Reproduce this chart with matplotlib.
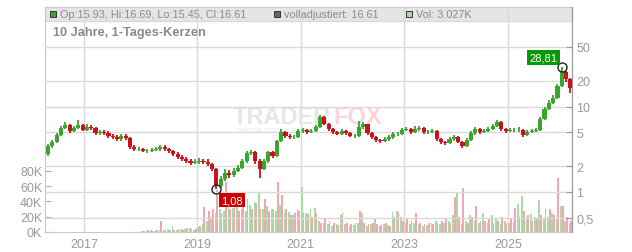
import numpy as np
import pandas as pd
import matplotlib
matplotlib.use("Agg")
import matplotlib.pyplot as plt
from matplotlib.patches import Rectangle

plt.rcParams['font.family'] = ['Liberation Sans', 'DejaVu Sans']

# monthly candles (EUR, log scale), first month Feb 2016
startMonth = '2016-02-01'
firstOpen = 2.78
closes = [3.45, 3.84, 4.65, 5.6, 6.08, 5.17, 5.6, 6.08, 5.31, 5.76,
          5.6, 4.90, 5.03, 4.90, 4.52, 4.40, 4.17, 4.52, 4.28, 3.36,
          3.18, 3.18, 3.02, 3.02, 3.10, 3.18, 3.36, 3.18, 3.02, 2.78,
          2.57, 2.43, 2.30, 2.18, 2.24, 2.30, 2.24, 2.13, 1.86, 1.17,
          1.42, 1.67, 1.58, 1.76, 1.91, 2.30, 2.86, 2.94, 2.30, 1.86,
          2.30, 2.94, 2.64, 3.95, 5.03, 4.52, 4.40, 4.40, 5.17, 5.31,
          5.03, 5.17, 5.76, 7.54, 6.24, 5.46, 5.03, 4.77, 5.17, 4.90,
          4.52, 4.52, 5.76, 6.24, 4.90, 4.40, 4.06, 3.95, 4.17, 4.40,
          4.77, 4.77, 5.31, 5.46, 5.03, 5.46, 5.60, 5.03, 5.03, 5.17,
          4.17, 3.84, 3.74, 4.17, 4.40, 3.84, 3.45, 4.06, 4.90, 5.46,
          5.03, 5.17, 5.46, 5.91, 6.59, 5.46, 5.17, 5.31, 5.31, 5.31,
          4.65, 5.03, 5.17, 5.31, 7.14, 9.35, 11.0, 12.6, 17.4, 25.3,
          21.0, 16.61]
highs = [3.6, 4.1, 4.9, 5.9, 6.6, 6.3, 5.9, 7.0, 6.3, 6.2,
         6.1, 5.8, 5.3, 5.3, 5.1, 4.8, 4.6, 4.8, 4.8, 4.4,
         3.5, 3.4, 3.3, 3.2, 3.3, 3.4, 3.5, 3.5, 3.3, 3.1,
         2.9, 2.7, 2.55, 2.45, 2.4, 2.5, 2.45, 2.4, 2.2, 1.9,
         1.55, 1.85, 1.8, 1.9, 2.05, 2.45, 3.0, 3.1, 3.0, 2.4,
         2.45, 3.05, 3.0, 4.1, 5.4, 5.2, 4.8, 4.7, 5.4, 5.6,
         5.5, 5.5, 6.1, 7.9, 7.7, 6.4, 5.6, 5.2, 5.4, 5.3,
         5.0, 4.8, 6.7, 6.6, 6.3, 5.0, 4.5, 4.2, 4.4, 4.6,
         5.0, 5.0, 5.6, 5.7, 5.6, 5.9, 5.9, 5.7, 5.3, 5.4,
         5.3, 4.3, 4.0, 4.4, 4.7, 4.5, 3.95, 4.3, 5.2, 5.8,
         5.6, 5.5, 5.8, 6.2, 7.0, 6.7, 5.6, 5.6, 5.6, 5.7,
         5.4, 5.3, 5.5, 5.6, 7.5, 9.8, 11.8, 13.5, 18.5, 28.81,
         26.0, 21.8]
lows = [2.65, 3.3, 3.7, 4.5, 5.4, 4.9, 5.0, 5.4, 5.1, 5.1,
        5.3, 4.7, 4.7, 4.7, 4.3, 4.2, 4.0, 4.0, 4.1, 3.2,
        3.0, 3.0, 2.9, 2.85, 2.9, 3.0, 3.05, 3.0, 2.85, 2.65,
        2.45, 2.3, 2.2, 2.05, 2.1, 2.15, 2.1, 2.0, 1.75, 1.08,
        1.12, 1.35, 1.45, 1.5, 1.7, 1.85, 2.2, 2.7, 2.1, 1.45,
        1.8, 2.2, 2.5, 2.55, 3.8, 4.3, 4.2, 4.15, 4.3, 4.9,
        4.8, 4.9, 5.0, 5.6, 6.0, 5.2, 4.8, 4.6, 4.6, 4.7,
        4.35, 4.3, 4.4, 5.5, 4.7, 4.2, 3.85, 3.7, 3.8, 4.0,
        4.2, 4.5, 4.6, 5.1, 4.8, 4.9, 5.2, 4.8, 4.8, 4.85,
        4.0, 3.65, 3.5, 3.6, 4.0, 3.7, 3.3, 3.35, 3.95, 4.7,
        4.8, 4.85, 5.0, 5.3, 5.7, 5.2, 4.9, 5.0, 5.0, 5.0,
        4.4, 4.5, 4.85, 5.0, 5.1, 6.9, 9.0, 10.6, 12.2, 16.8,
        19.5, 14.5]

# peak daily volume per month (thousand shares), up days / down days
volUp = [0, 0, 0, 0, 0, 0, 0, 0, 0, 0, 0, 0, 0, 0, 0, 0, 0, 0, 0, 0, 0, 0,
         1, 1, 2, 1, 3, 2, 4, 8, 3, 4,
         4, 5, 3, 6, 10, 14, 20, 25, 30, 28,
         37, 32, 35, 30, 28, 35, 40, 52, 30, 34,
         30, 28, 35, 25, 26, 22, 30, 59, 25, 30,
         32, 15, 12, 10, 8, 10, 22, 10, 8, 9,
         12, 25, 8, 10, 18, 8, 10, 9, 26, 28,
         20, 12, 10, 12, 10, 8, 9, 12, 14, 10,
         12, 15, 22, 53, 10, 15, 22, 14, 12, 25,
         12, 22, 18, 10, 15, 12, 14, 37, 47, 20,
         24, 20, 42, 18, 20, 25, 18, 34, 15, 12]
volDown = [0, 0, 0, 0, 0, 0, 0, 0, 0, 0, 0, 0, 0, 0, 0, 0, 0, 0, 0, 0, 0, 0,
           1, 2, 1, 2, 15, 3, 2, 3, 4, 3,
           5, 4, 4, 8, 33, 28, 30, 55, 25, 66,
           30, 35, 28, 33, 43, 30, 38, 30, 43, 28,
           30, 66, 48, 30, 22, 25, 28, 25, 23, 20,
           25, 12, 17, 14, 12, 9, 25, 12, 10, 12,
           27, 12, 10, 12, 10, 9, 12, 8, 20, 26,
           15, 18, 14, 25, 12, 10, 12, 10, 12, 14,
           18, 12, 46, 20, 58, 12, 20, 34, 15, 14,
           18, 12, 14, 20, 12, 18, 31, 20, 28, 22,
           14, 18, 22, 30, 30, 22, 71, 34, 20, 14]

yearTicks = [2016.82, 2019, 2021, 2023, 2025]
yearLabels = ['2017', '2019', '2021', '2023', '2025']
priceTicks = [0.5, 1, 2, 5, 10, 20, 50]
priceLabels = ['0,5', '1', '2', '5', '10', '20', '50']
volTicks = [0, 20, 40, 60, 80]
volLabels = ['0K', '20K', '40K', '60K', '80K']

upColor = '#3aa52c'
downColor = '#c8121c'
gridColor = '#dadada'
textColor = '#999999'

dates = pd.date_range(startMonth, periods=len(closes), freq='MS')
x = np.array(dates.year + (dates.month - 0.5) / 12)
opens = [firstOpen] + closes[:-1]
candleColors = [upColor if c >= o else downColor for o, c in zip(opens, closes)]
month = 1 / 12

fig = plt.figure(figsize=(6.32, 2.53), dpi=100)
axV = fig.add_axes([45 / 632, 20 / 253, 527 / 632, 225 / 253])
axP = axV.twinx()


def toAxes(px, py):
    return (px - 45) / 527, (233 - py) / 225


# volume on the left axis
axV.bar(x - 0.2 * month, volUp, width=0.4 * month, color='#a9dca4', zorder=2)
axV.bar(x + 0.2 * month, volDown, width=0.4 * month, color='#f2a7b0', zorder=2)
axV.set_ylim(0, 295)
axV.set_xlim(2016.066, 2026.239)
axV.set_yticks(volTicks)
axV.set_yticklabels(volLabels)
axV.set_xticks(yearTicks)
axV.set_xticklabels(yearLabels)
axV.set_axisbelow(True)
axV.grid(axis='x', color=gridColor, lw=1)
axV.tick_params(axis='y', direction='in', length=4, color='#aaaaaa',
                labelcolor=textColor, labelsize=9, pad=2)
axV.tick_params(axis='x', length=0, labelcolor=textColor, labelsize=9, pad=4)
for side in ['left', 'bottom', 'top']:
    axV.spines[side].set_color('#c8c8c8')
axV.spines['right'].set_color('#999999')

# legend strip
bx, by = toAxes(45, 22)
axV.add_patch(Rectangle((bx, by), 1, 1 - by, transform=axV.transAxes,
                        facecolor='#e5e5e5', edgecolor='none', zorder=0.2))
axV.axhline(y=(233 - 22) * 295 / 225, color=gridColor, lw=1, zorder=0.3)

legendItems = [(50, upColor, 'Op:15.93, Hi:16.69, Lo:15.45, Cl:16.61'),
               (274, '#666666', 'volladjustiert: 16.61'),
               (406, '#a9dca4', 'Vol: 3.027K')]
for px, col, label in legendItems:
    sx, sy = toAxes(px, 18)
    axV.add_patch(Rectangle((sx, sy), 6 / 527, 6 / 225, transform=axV.transAxes,
                            facecolor=col, edgecolor='#333333', lw=0.7, zorder=3))
    tx, ty = toAxes(px + 10, 15)
    axV.text(tx, ty, label, transform=axV.transAxes, fontsize=7.8,
             color='#8a8a8a', va='center', ha='left')

tx, ty = toAxes(53, 33)
axV.text(tx, ty, '10 Jahre, 1-Tages-Kerzen', transform=axV.transAxes,
         fontsize=9.2, fontweight='bold', color='#8a8a8a', va='center')

# watermark
wx, wy = toAxes(233, 118)
axV.text(wx, wy, 'TRADER', transform=axV.transAxes, fontsize=17,
         fontweight='bold', color='#e6e6e6', va='center', zorder=1)
wx, wy = toAxes(333, 118)
axV.text(wx, wy, 'FOX', transform=axV.transAxes, fontsize=17,
         fontweight='bold', color='#fad6da', va='center', zorder=1)
wx, wy = toAxes(238, 131)
axV.text(wx, wy, 'REALTIME  STOCK  SCREENER', transform=axV.transAxes,
         fontsize=3.5, color='#e6e6e6', va='center', zorder=1)

# price candles on the right log axis
axP.set_yscale('log')
axP.set_ylim(0.34, 146)
axP.grid(axis='y', which='major', color=gridColor, lw=1, zorder=0)
axP.vlines(x, lows, highs, colors=candleColors, lw=1.3, zorder=3)
axP.bar(x, np.abs(np.array(closes) - np.array(opens)),
        bottom=np.minimum(opens, closes), width=0.95 * month,
        color=candleColors, zorder=4)
axP.set_yticks(priceTicks)
axP.set_yticklabels(priceLabels)
axP.yaxis.set_minor_locator(matplotlib.ticker.NullLocator())
axP.tick_params(axis='y', direction='in', length=4, color='#999999',
                labelcolor=textColor, labelsize=9, pad=3)
for side in ['left', 'bottom', 'top']:
    axP.spines[side].set_visible(False)
axP.spines['right'].set_color('#999999')

iLow = int(np.argmin(lows))
iHigh = int(np.argmax(highs))
for i, val, off, box in [(iLow, lows[iLow], (11, -8), '#cc0000'),
                         (iHigh, highs[iHigh], (-13, 7), '#079a07')]:
    axP.plot(x[i], val, 'o', mfc='none', mec='#222222', ms=6.5, mew=1, zorder=6)
    axP.annotate(f'{val:.2f}'.replace('.', ','), (x[i], val), xytext=off,
                 textcoords='offset points', ha='center', va='center',
                 fontsize=8, color='white', zorder=7,
                 bbox=dict(boxstyle='square,pad=0.2', fc=box, ec='none'))

plt.savefig('out.png', dpi=100)
